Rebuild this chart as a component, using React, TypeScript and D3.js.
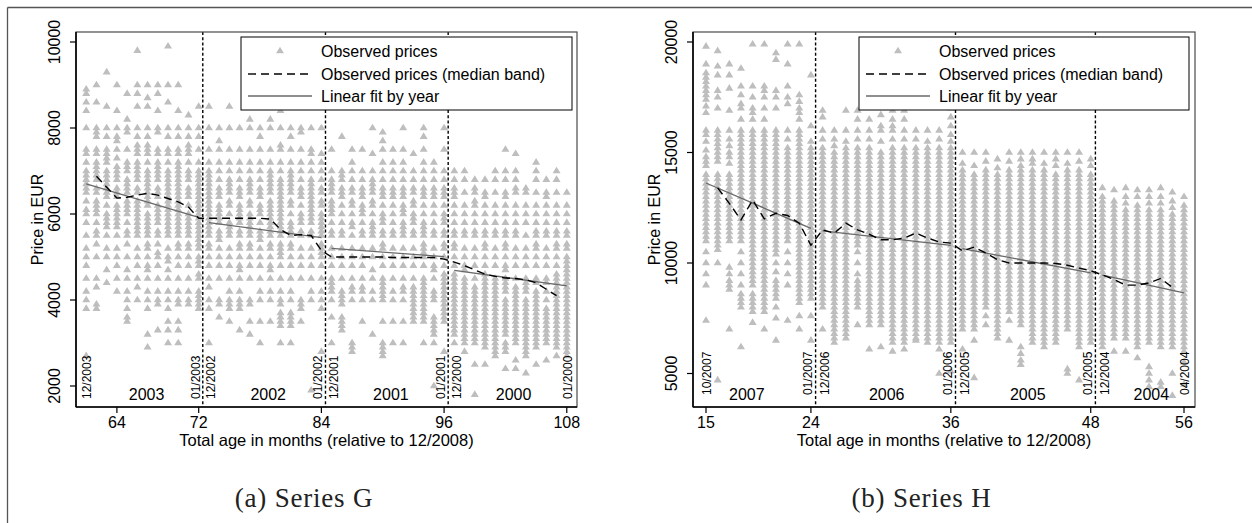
import React from "react";
import * as d3 from "d3";

const SANS = "'Liberation Sans', Arial, Helvetica, sans-serif";
const SERIF = "'Liberation Serif', 'Times New Roman', serif";

// Observed prices, Series G: [total age in months, prices in hundreds of EUR]
const observedG: [number, string][] = [
  [61, "27 38 40 42 45 48 50 52 55 58 60 61 63 65 66 67 68 69 70 72 74 75 80 84 86 88 89"],
  [62, "38 39 43 45 50 53 55 56 58 60 61 62 63 65 66 68 69 70 71 72 74 75 78 79 80 86 90"],
  [63, "44 47 50 52 55 57 58 59 60 62 64 65 66 67 68 69 70 72 73 74 75 78 80 85 93"],
  [64, "42 45 48 50 52 55 57 58 59 60 61 62 64 65 66 68 69 70 71 73 75 77 78 80 84 90"],
  [65, "35 36 38 40 42 45 47 50 53 55 56 58 60 61 62 63 65 66 67 68 70 71 72 75 79 80 82 88"],
  [66, "40 43 45 48 50 52 55 56 57 58 59 60 61 62 63 65 66 68 69 70 71 72 74 75 76 78 80 85 88 90 98"],
  [67, "29 32 38 40 42 45 47 48 50 52 53 55 56 57 58 59 60 62 63 64 65 66 67 68 69 70 72 74 75 76 78 80 85 87 90"],
  [68, "33 39 40 42 45 48 50 51 53 55 56 58 59 60 61 62 64 65 66 68 69 70 71 72 74 75 79 80 84 88 90"],
  [69, "30 33 35 38 40 42 45 47 49 50 52 55 56 57 58 59 60 61 62 63 64 65 66 67 68 69 70 72 74 75 78 80 86 90 99"],
  [70, "30 33 35 39 40 42 45 48 50 52 53 55 56 57 58 59 60 61 62 63 64 65 66 67 68 69 70 71 72 74 75 78 80 84 90"],
  [71, "39 40 42 45 48 50 52 53 55 56 57 58 59 60 62 64 65 66 68 69 70 72 74 75 76 78 80 83"],
  [72, "38 39 40 41 42 45 46 48 49 50 52 53 54 55 56 57 58 59 60 61 62 63 64 65 66 67 68 69 70 72 75 78 80 85"],
  [73, "30 38 40 43 45 48 50 52 53 55 56 57 58 59 60 61 62 63 64 65 66 67 68 69 70 72 75 80 85"],
  [74, "36 39 40 45 48 50 52 54 55 56 58 59 60 61 62 64 65 66 68 70 72 75 77 80"],
  [75, "35 38 39 40 42 45 48 50 52 55 56 57 58 60 62 63 65 66 67 68 70 72 75 80 85"],
  [76, "33 38 39 40 42 45 47 48 50 52 53 55 56 58 59 60 61 62 64 65 66 68 70 72 75 80"],
  [77, "32 35 39 40 45 48 50 52 53 55 56 57 58 59 60 62 63 65 66 67 68 70 72 75 80 82"],
  [78, "30 35 40 42 45 48 50 52 54 55 56 58 60 61 62 64 65 66 68 70 72 75 78 80 85"],
  [79, "35 40 42 45 47 48 50 52 53 55 56 57 58 59 60 61 62 63 65 66 67 68 69 70 72 75 80 82"],
  [80, "30 34 35 36 37 39 40 42 45 48 50 51 52 53 55 56 57 58 59 60 61 62 63 64 65 66 67 68 70 72 75 76 80 84"],
  [81, "30 34 35 36 37 40 42 45 48 50 52 53 55 56 57 58 60 62 63 65 66 67 68 69 70 72 75 78 80"],
  [82, "35 38 39 40 45 48 50 52 55 56 58 59 60 62 64 65 66 68 70 72 75 79 80"],
  [83, "19 40 42 45 48 50 52 55 56 58 59 60 61 62 63 64 65 66 67 68 70 72 74 75 80 85"],
  [84, "28 38 40 42 45 48 50 51 52 53 55 56 57 58 59 60 62 63 65 66 68 70 72 74 80"],
  [85, "30 36 40 42 43 44 45 48 50 52 55 56 58 60 61 62 63 65 66 67 68 70 75"],
  [86, "33 34 35 36 39 40 41 42 45 48 50 52 55 56 58 60 62 64 65 66 68 69 70 78"],
  [87, "28 29 30 40 42 43 45 48 50 52 55 57 58 60 62 63 65 66 68 70 72 75"],
  [88, "35 40 42 43 45 48 50 52 55 56 58 60 61 62 64 65 66 68 70 75"],
  [89, "32 40 42 45 47 50 52 55 56 57 58 60 62 63 65 66 67 68 70 74 80"],
  [90, "27 28 29 30 35 40 41 42 43 44 45 48 50 52 53 55 56 58 59 60 62 64 65 66 68 70 72 75 77 79"],
  [91, "30 35 40 42 45 48 50 52 55 56 58 60 62 64 65 66 68 70 72 75"],
  [92, "30 35 40 42 43 45 48 50 52 55 56 57 58 60 61 62 64 65 66 68 70 72 75 80"],
  [93, "35 36 37 38 39 40 41 42 43 45 48 50 52 55 56 58 59 60 62 63 65 66 68 70 74"],
  [94, "30 35 36 37 38 39 40 41 42 43 44 45 48 50 51 52 53 55 56 57 58 60 62 64 65 66 68 70 72 75 78 80"],
  [95, "20 30 32 33 34 35 36 40 41 42 45 47 48 50 52 55 56 58 60 62 64 65 66 68 70 72"],
  [96, "28 35 36 37 38 39 40 41 42 43 44 45 46 48 50 52 53 55 56 58 59 60 62 64 65 66 68 70 75 80"],
  [97, "30 32 33 34 35 36 37 38 39 40 41 42 43 44 45 46 48 50 52 53 55 56 58 60 62 64 65 66 68 70"],
  [98, "28 30 31 32 33 34 35 36 37 38 39 40 41 42 43 44 45 47 48 50 52 55 56 58 60 62 65 68 70"],
  [99, "18 25 30 31 32 33 34 35 36 37 38 39 40 41 42 43 45 48 50 52 55 56 58 60 62 63 65 66 68"],
  [100, "25 29 30 31 32 33 34 35 36 37 38 39 40 41 42 43 44 45 46 48 50 52 53 55 56 58 60 62 64 65 68"],
  [101, "27 28 29 30 31 32 33 34 35 36 37 38 39 40 41 42 43 44 45 48 50 52 55 56 58 60 62 65 68 70"],
  [102, "24 28 29 30 32 33 34 35 36 37 38 39 40 42 43 44 45 47 48 50 52 53 55 56 58 60 62 64 65 68 70 75"],
  [103, "24 26 30 31 32 33 34 35 36 37 38 39 40 41 42 43 45 48 50 52 55 56 58 60 62 65 66 68 70 74"],
  [104, "23 27 28 29 30 31 32 33 34 35 36 37 38 39 40 42 43 44 45 48 50 52 55 58 60 62 65 66"],
  [105, "25 29 30 31 32 33 34 35 36 37 38 39 40 41 42 44 45 48 50 52 53 55 56 58 60 62 65 68 70 72"],
  [106, "26 30 31 32 33 34 35 36 37 38 40 42 44 45 48 50 52 55 56 58 60 62 64 65 68"],
  [107, "27 29 30 31 32 33 34 35 36 37 38 39 40 41 42 43 44 45 46 48 50 52 53 55 56 58 60 62 65 68 70"],
  [108, "27 28 29 30 31 32 33 34 35 36 37 38 39 40 41 42 43 44 45 46 47 48 49 50 52 53 55 56 58 60 62 65"],
];

// Observed prices, Series H: [total age in months, prices in hundreds of EUR]
const observedH: [number, string][] = [
  [15, "198 190 186 184 182 180 178 176 174 171 168 160 158 155 151 148 146 144 140 138 136 134 132 130 128 126 124 122 120 118 116 114 112 110 105 100 95 90 74"],
  [16, "196 189 185 178 175 170 160 158 156 154 152 150 148 146 140 138 136 134 132 130 128 126 124 122 120 118 116 114 112 110 108 106 100 47"],
  [17, "190 185 179 169 160 156 153 150 148 145 140 138 136 134 132 130 128 126 124 122 120 118 116 114 112 110 98 95 92 90 88 70"],
  [18, "188 180 176 172 170 165 160 158 156 154 152 150 148 146 144 142 140 138 136 134 132 130 128 126 124 122 120 118 116 114 112 110 105 100 95 90 86 84 82 80 62"],
  [19, "199 180 175 170 168 165 160 158 156 154 152 150 148 146 144 142 140 138 136 134 132 130 128 126 124 122 120 118 116 114 112 110 108 106 104 102 100 98 96 94 92 90 86 84 82 80 78 73"],
  [20, "199 180 178 175 170 165 160 158 156 154 152 150 148 146 144 142 140 138 136 134 132 130 128 126 124 122 120 118 116 114 112 110 108 106 104 102 100 98 96 94 92 90 88 86 84 82 80 78 70"],
  [21, "195 192 178 175 170 160 158 156 154 152 150 148 146 144 142 140 138 136 134 132 130 128 126 124 122 120 118 116 114 112 110 108 106 104 100 96 92 90 88 86 84 80 75 65"],
  [22, "199 190 180 175 172 160 156 152 150 148 146 144 142 140 138 136 134 132 130 128 126 124 122 120 118 116 114 112 110 105 100 95 90 74"],
  [23, "199 176 173 170 168 165 160 158 156 154 152 150 148 146 144 142 140 138 136 134 132 130 128 126 124 122 120 118 116 114 112 110 108 106 104 102 100 98 96 94 92 90 88 86 84 82 76 70"],
  [24, "185 162 155 152 150 148 146 144 142 140 138 136 134 132 130 128 126 124 122 120 118 116 114 112 110 108 106 104 102 100 98 96 94 92 90 88 86 84 76 65"],
  [25, "169 166 160 156 152 150 148 146 144 142 140 138 136 134 132 130 128 126 124 122 120 118 116 114 112 110 108 106 104 102 100 98 96 94 92 90 88 86 84 82 80 70"],
  [26, "160 156 153 150 148 146 144 142 140 138 136 134 132 130 128 126 124 122 120 118 116 114 112 110 108 106 104 102 100 98 96 94 92 90 88 86 84 82 80 78 76 74 72 70 68 66 64"],
  [27, "169 160 155 152 150 148 146 144 142 140 138 136 134 132 130 128 126 124 122 120 118 116 114 112 110 108 106 104 102 100 98 96 94 92 90 88 86 84 82 80 78 76 74 72 70 68 66"],
  [28, "169 165 160 156 152 150 148 146 144 142 140 138 136 134 132 130 128 126 124 122 120 118 116 114 112 110 108 105 100 95 92 90 88 86 84 82 80 72"],
  [29, "165 160 156 152 150 148 146 144 142 140 138 136 134 132 130 128 126 124 122 120 118 116 114 112 110 108 106 104 102 100 98 96 94 92 90 88 86 84 82 80 78 76 74 72 61"],
  [30, "167 162 160 155 150 148 146 144 142 140 138 136 134 132 130 128 126 124 122 120 118 116 114 112 110 108 106 104 102 100 98 96 94 92 90 88 86 84 82 80 78 76 74 72 62"],
  [31, "169 165 162 160 156 152 150 148 146 144 142 140 138 136 134 132 130 128 126 124 122 120 118 116 114 112 110 108 106 104 102 100 98 96 94 92 90 88 86 84 82 80 78 76 74 72 70 68 66 64 60"],
  [32, "169 165 160 156 152 150 148 146 144 142 140 138 136 134 132 130 128 126 124 122 120 118 116 114 112 110 108 106 104 102 100 98 96 94 92 90 88 86 84 82 80 78 76 74 72 70 68 66 64 61"],
  [33, "160 156 152 150 148 146 144 142 140 138 136 134 132 130 128 126 124 122 120 118 116 114 112 110 108 106 104 102 100 98 96 94 92 90 88 86 84 82 80 78 76 74 72 70 68 66 65"],
  [34, "160 155 152 150 148 146 144 142 140 138 136 134 132 130 128 126 124 122 120 118 116 114 112 110 108 106 104 102 100 98 96 94 92 90 88 86 84 82 80 78 76 74 72 70 68 66 64"],
  [35, "160 156 152 150 148 146 144 142 140 138 136 134 132 130 128 126 124 122 120 118 116 114 112 110 108 106 104 102 100 98 96 94 92 90 88 86 84 82 80 78 76 74 72 70 68 66 64 61 50"],
  [36, "170 166 162 158 155 152 150 148 146 144 142 140 138 136 134 132 130 128 126 124 122 120 118 116 114 112 110 108 106 104 102 100 98 96 94 92 90 88 86 84 82 80 78 76 74 72 70 68 66 64 51"],
  [37, "150 145 142 140 138 136 134 132 130 128 126 124 122 120 118 116 114 112 110 108 106 104 102 100 98 96 94 92 90 88 86 84 82 80 78 76 74 72 70 61"],
  [38, "150 144 140 138 136 134 132 130 128 126 124 122 120 118 116 114 112 110 108 106 104 102 100 98 96 94 92 90 88 86 84 82 80 78 76 74 72 70 65 48"],
  [39, "150 146 142 140 138 136 134 132 130 128 126 124 122 120 118 116 114 112 110 108 106 104 102 100 98 96 94 92 90 88 86 84 82 80 76 72"],
  [40, "147 143 140 138 136 134 132 130 128 126 124 122 120 118 116 114 112 110 108 106 104 102 100 98 96 94 92 90 88 86 84 82 80 78 76 74 72 70 68 66"],
  [41, "150 146 142 140 138 136 134 132 130 128 126 124 122 120 118 116 114 112 110 108 106 104 102 100 98 96 94 92 90 88 86 84 82 80 78 74 65"],
  [42, "150 147 144 142 140 138 136 134 132 130 128 126 124 122 120 118 116 114 112 110 108 106 104 102 100 98 96 94 92 90 88 86 84 82 80 78 76 74 72 62 59 56 54"],
  [43, "150 147 145 142 140 138 136 134 132 130 128 126 124 122 120 118 116 114 112 110 108 106 104 102 100 98 96 94 92 90 88 86 84 82 80 78 76 74 72 70 68 66 64"],
  [44, "150 145 142 140 138 136 134 132 130 128 126 124 122 120 118 116 114 112 110 108 106 104 102 100 98 96 94 92 90 88 86 84 82 80 78 76 74 72 70 68 66 64 62"],
  [45, "150 147 144 140 138 136 134 132 130 128 126 124 122 120 118 116 114 112 110 108 106 104 102 100 98 96 94 92 90 88 86 84 82 80 78 76 74 72 70 68 66 64"],
  [46, "150 145 142 140 138 136 134 132 130 128 126 124 122 120 118 116 114 112 110 108 106 104 102 100 98 96 94 92 90 88 86 84 82 80 78 76 74 72 70 52 50"],
  [47, "150 146 142 140 138 136 134 132 130 128 126 124 122 120 118 116 114 112 110 108 106 104 102 100 98 96 94 92 90 88 86 84 82 80 78 76 74 72 70 68 66 64 62 47"],
  [48, "147 144 140 138 136 134 132 130 128 126 124 122 120 118 116 114 112 110 108 106 104 102 100 98 96 94 92 90 88 86 84 82 80 78 76 74 72 70 68 66 64"],
  [49, "134 130 128 126 124 122 120 118 116 114 112 110 108 106 104 102 100 98 96 94 92 90 88 86 84 82 80 78 76 74 72 70 68 66 64 62"],
  [50, "133 128 126 124 122 120 118 116 114 112 110 108 106 104 102 100 98 96 94 92 90 88 86 84 82 80 78 76 74 72 70 68 66 60"],
  [51, "134 130 127 124 122 120 118 116 114 112 110 108 106 104 102 100 98 96 94 92 90 88 86 84 82 80 78 76 74 72 70 68 66 60"],
  [52, "133 130 126 124 122 120 118 116 114 112 110 108 106 104 102 100 98 96 94 92 90 88 86 84 82 80 78 76 74 72 70 68 66 64 62 57"],
  [53, "133 130 127 124 122 120 118 116 114 112 110 108 106 104 102 100 98 96 94 92 90 88 86 84 82 80 78 76 74 72 70 68 66 64 53 50 47 44"],
  [54, "134 130 127 124 122 120 118 116 114 112 110 108 106 104 102 100 98 96 94 92 90 88 86 84 82 80 78 76 74 72 70 68 66 64 62 46 44"],
  [55, "132 128 125 122 120 118 116 114 112 110 108 106 104 102 100 98 96 94 92 90 88 86 84 82 80 78 76 74 72 70 68 66 64 62 50 40"],
  [56, "130 126 124 122 120 118 116 114 112 110 108 106 104 102 100 98 96 94 92 90 88 86 84 82 80 78 76 74 72 70 68 66 64 62 60 55 45"],
];

// Median of observed prices per month
const medianG: [number, number][] = [
  [62, 6880], [63, 6620], [64, 6370], [65, 6390], [66, 6440], [67, 6480], [68, 6440], [69, 6360],
  [70, 6280], [71, 6160], [72, 5900], [73, 5900], [74, 5900], [75, 5900], [76, 5900], [77, 5900],
  [78, 5900], [79, 5880], [80, 5640], [81, 5500], [82, 5520], [83, 5500], [84, 5150], [85, 5000],
  [86, 5000], [87, 5000], [88, 5000], [89, 5000], [90, 5000], [91, 4990], [92, 4990], [93, 4990],
  [94, 4990], [95, 4990], [96, 4950], [97, 4880], [98, 4800], [99, 4700], [100, 4600], [101, 4550],
  [102, 4510], [103, 4500], [104, 4470], [105, 4400], [106, 4250], [107, 4100],
];
const medianH: [number, number][] = [
  [16, 13400], [17, 12700], [18, 11950], [19, 12850], [20, 12000], [21, 12250], [22, 12150], [23, 11800],
  [24, 10800], [25, 11500], [26, 11350], [27, 11800], [28, 11500], [29, 11300], [30, 11050], [31, 11050],
  [32, 11130], [33, 11350], [34, 11130], [35, 10950], [36, 10900], [37, 10550], [38, 10720], [39, 10450],
  [40, 10150], [41, 10000], [42, 10000], [43, 10000], [44, 10000], [45, 9980], [46, 9900], [47, 9770],
  [48, 9650], [49, 9460], [50, 9250], [51, 9000], [52, 9000], [53, 9100], [54, 9300], [55, 8900],
];

// Linear fit per production year: [age from, price from, age to, price to]
const fitG: [number, number, number, number][] = [
  [61, 6700, 72, 5920], [73, 5800, 84, 5450], [85, 5200, 96, 5010], [97, 4690, 108, 4330],
];
const fitH: [number, number, number, number][] = [
  [15, 13620, 24, 11570], [25, 11450, 36, 10800], [37, 10650, 48, 9550], [49, 9450, 56, 8650],
];

// Year boundaries and labels
const dividersG = [72.4, 84.4, 96.4];
const dividersH = [24.4, 36.4, 48.4];
const yearsG = ["2003", "2002", "2001", "2000"];
const yearPosG = [66.9, 78.8, 90.8, 102.8];
const yearsH = ["2007", "2006", "2005", "2004"];
const yearPosH = [18.5, 30.5, 42.6, 53.2];

// Month labels: [age, text, side of the divider (-1 left, 1 right, 0 edge)]
const monthLabelsG: [number, string, number][] = [
  [61, "12/2003", 0], [72, "01/2003", -1], [73, "12/2002", 1], [84, "01/2002", -1],
  [85, "12/2001", 1], [96, "01/2001", -1], [97, "12/2000", 1], [108, "01/2000", 0],
];
const monthLabelsH: [number, string, number][] = [
  [15, "10/2007", 0], [24, "01/2007", -1], [25, "12/2006", 1], [36, "01/2006", -1],
  [37, "12/2005", 1], [48, "01/2005", -1], [49, "12/2004", 1], [56, "04/2004", 0],
];

const xTicksG = [64, 72, 84, 96, 108];
const yTicksG = [2000, 4000, 6000, 8000, 10000];
const xTicksH = [15, 24, 36, 48, 56];
const yTicksH = [5000, 10000, 15000, 20000];

const legendLabels = ["Observed prices", "Observed prices (median band)", "Linear fit by year"];

type Spec = {
  left: number; right: number; top: number; bottom: number;
  xDomain: [number, number]; yDomain: [number, number];
  observed: [number, string][]; median: [number, number][];
  fit: [number, number, number, number][];
  dividers: number[]; years: string[]; yearPos: number[];
  monthLabels: [number, string, number][]; labelBottom: number;
  xTicks: number[]; yTicks: number[];
  legendX: number; legendW: number;
  caption: string; captionX: number;
};

const specG: Spec = {
  left: 76, right: 577, top: 32, bottom: 407,
  xDomain: [60, 109], yDomain: [1511.6, 10232.6],
  observed: observedG, median: medianG, fit: fitG,
  dividers: dividersG, years: yearsG, yearPos: yearPosG,
  monthLabels: monthLabelsG, labelBottom: 399,
  xTicks: xTicksG, yTicks: yTicksG,
  legendX: 241, legendW: 331,
  caption: "(a) Series G", captionX: 304,
};

const specH: Spec = {
  left: 693, right: 1195, top: 32, bottom: 407,
  xDomain: [13.885, 56.943], yDomain: [3484, 20452],
  observed: observedH, median: medianH, fit: fitH,
  dividers: dividersH, years: yearsH, yearPos: yearPosH,
  monthLabels: monthLabelsH, labelBottom: 395,
  xTicks: xTicksH, yTicks: yTicksH,
  legendX: 859, legendW: 330,
  caption: "(b) Series H", captionX: 921.5,
};

const MARKER = "#bebebe";

function Panel({ s }: { s: Spec }) {
  const x = d3.scaleLinear().domain(s.xDomain).range([s.left, s.right]);
  const y = d3.scaleLinear().domain(s.yDomain).range([s.bottom, s.top]);

  // all observed triangles as one path
  let tri = "";
  for (const [age, str] of s.observed) {
    const px = x(age);
    for (const v of str.split(" ")) {
      const py = y(+v * 100);
      tri += `M${px.toFixed(2)},${(py - 4.3).toFixed(2)}l4,6.6l-8,0z`;
    }
  }
  const medianPath = d3
    .line<[number, number]>()
    .x((d) => x(d[0]))
    .y((d) => y(d[1]))(s.median) as string;

  const cx = (s.left + s.right) / 2;
  const cy = (s.top + s.bottom) / 2;
  const lx = s.legendX;

  return (
    <g>
      <path d={tri} fill={MARKER} />
      {s.dividers.map((d) => (
        <line key={d} x1={x(d)} x2={x(d)} y1={s.top} y2={s.bottom}
          stroke="#000" strokeWidth={1.4} strokeDasharray="3,2.2" />
      ))}
      {s.fit.map(([a0, p0, a1, p1], i) => (
        <line key={i} x1={x(a0)} y1={y(p0)} x2={x(a1)} y2={y(p1)}
          stroke="#6a6a6a" strokeWidth={1.3} />
      ))}
      <path d={medianPath} fill="none" stroke="#000" strokeWidth={1.4} strokeDasharray="8,5" />
      {s.years.map((t, i) => (
        <text key={t} x={x(s.yearPos[i])} y={400} textAnchor="middle"
          fontFamily={SANS} fontSize={16} fill="#000">{t}</text>
      ))}
      {s.monthLabels.map(([age, t, side]) => {
        const px = x(age) + (side < 0 ? -3 : side > 0 ? 2.5 : 1);
        return (
          <text key={t} transform={`translate(${px},${s.labelBottom}) rotate(-90)`}
            textAnchor="start" dominantBaseline="central"
            fontFamily={SANS} fontSize={12} fill="#000">{t}</text>
        );
      })}

      {/* legend */}
      <rect x={lx} y={37} width={s.legendW} height={73} fill="#fff" stroke="#000" strokeWidth={1} />
      <path d={`M${lx + 39},${51 - 4.3}l4,6.6l-8,0z`} fill={MARKER} />
      <line x1={lx + 7} x2={lx + 71} y1={74} y2={74} stroke="#000" strokeWidth={1.4} strokeDasharray="8,5" />
      <line x1={lx + 7} x2={lx + 71} y1={96} y2={96} stroke="#6a6a6a" strokeWidth={1.3} />
      {legendLabels.map((t, i) => (
        <text key={t} x={lx + 80} y={57 + i * 22.7} fontFamily={SANS} fontSize={16} fill="#000">{t}</text>
      ))}

      {/* frame and axes */}
      <rect x={s.left} y={s.top} width={s.right - s.left} height={s.bottom - s.top}
        fill="none" stroke="#4a4a4a" strokeWidth={1.2} />
      <line x1={s.left} x2={s.right} y1={s.bottom} y2={s.bottom} stroke="#000" strokeWidth={1.6} />
      <line x1={s.left} x2={s.left} y1={s.top} y2={s.bottom} stroke="#000" strokeWidth={1.6} />
      {s.xTicks.map((t) => (
        <g key={t}>
          <line x1={x(t)} x2={x(t)} y1={s.bottom} y2={s.bottom + 6} stroke="#000" strokeWidth={1.2} />
          <text x={x(t)} y={428} textAnchor="middle" fontFamily={SANS} fontSize={16} fill="#000">{t}</text>
        </g>
      ))}
      {s.yTicks.map((t) => (
        <g key={t}>
          <line x1={s.left - 6} x2={s.left} y1={y(t)} y2={y(t)} stroke="#000" strokeWidth={1.2} />
          <text transform={`translate(${s.left - 21.5},${y(t)}) rotate(-90)`}
            textAnchor="middle" dominantBaseline="central"
            fontFamily={SANS} fontSize={16} fill="#000">{t}</text>
        </g>
      ))}
      <text x={cx} y={446} textAnchor="middle" fontFamily={SANS} fontSize={16.5} fill="#000">
        Total age in months (relative to 12/2008)
      </text>
      <text transform={`translate(${s.left - 38.5},${cy}) rotate(-90)`}
        textAnchor="middle" dominantBaseline="central"
        fontFamily={SANS} fontSize={16} fill="#000">Price in EUR</text>

      <text x={s.captionX} y={507} textAnchor="middle" fontFamily={SERIF} fontSize={27}
        letterSpacing={0.8} fill="#222">
        {s.caption}
      </text>
    </g>
  );
}

export default function App() {
  return (
    <svg width={1252} height={523} viewBox="0 0 1252 523"
      style={{ position: "absolute", left: 0, top: 0, display: "block" }}>
      <rect width={1252} height={523} fill="#fff" />
      <line x1={7.5} y1={7.5} x2={1252} y2={7.5} stroke="#555" strokeWidth={1.3} />
      <line x1={7.5} y1={7.5} x2={7.5} y2={523} stroke="#555" strokeWidth={1.3} />
      <Panel s={specG} />
      <Panel s={specH} />
    </svg>
  );
}
